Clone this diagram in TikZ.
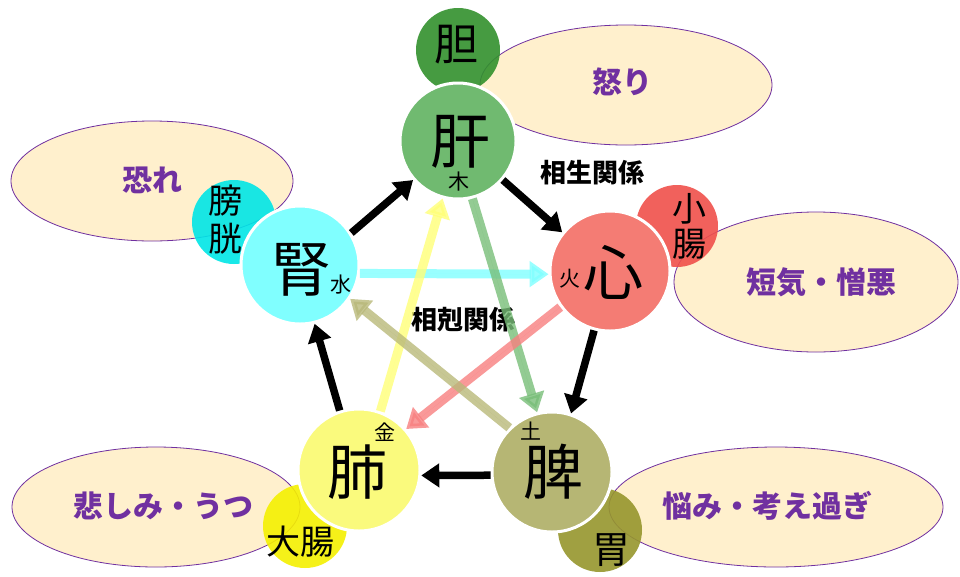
\documentclass[tikz,border=0pt]{standalone}
\usepackage{fontspec}
\setmainfont{Noto Sans CJK JP}
\usetikzlibrary{arrows.meta,shapes.geometric}
\definecolor{emofill}{RGB}{255,240,205}
\definecolor{emoline}{RGB}{112,48,160}
\definecolor{emotext}{RGB}{112,48,160}
\definecolor{livercol}{RGB}{112,186,112}
\definecolor{gallcol}{RGB}{50,145,45}
\definecolor{kidneycol}{RGB}{128,255,255}
\definecolor{bladdercol}{RGB}{0,230,230}
\definecolor{heartcol}{RGB}{244,124,116}
\definecolor{sicol}{RGB}{240,80,75}
\definecolor{lungcol}{RGB}{250,250,125}
\definecolor{licol}{RGB}{245,240,0}
\definecolor{spleencol}{RGB}{182,182,116}
\definecolor{stomachcol}{RGB}{150,150,45}
\definecolor{kcyan}{RGB}{128,255,255}
\definecolor{kyellow}{RGB}{255,255,120}
\definecolor{kgreen}{RGB}{120,190,120}
\definecolor{ksalmon}{RGB}{248,128,128}
\definecolor{kkhaki}{RGB}{185,185,122}
\begin{document}
\begin{tikzpicture}[x=1pt,y=-1pt,
  emo/.style={ellipse, fill=emofill, draw=emoline, line width=0.8pt, inner sep=0pt},
  emot/.style={inner sep=0pt, text=emotext, font=\fontsize{30}{30}\selectfont\bfseries},
  organ/.style={circle, draw=white, line width=3pt, inner sep=0pt, minimum size=#1},
  subc/.style={circle, inner sep=0pt, fill opacity=0.9, text opacity=1, minimum size=84pt},
  subt/.style={inner sep=0pt, font=\fontsize{34}{34}\selectfont},
  bigk/.style={inner sep=0pt, font=\fontsize{60}{60}\selectfont},
  elem/.style={inner sep=0pt, font=\fontsize{21}{21}\selectfont},
  rel/.style={inner sep=0pt, font=\fontsize{26}{26}\selectfont\bfseries},
  shou/.style={line width=7.5pt, -{Triangle[width=23pt,length=18pt]}},
  koku/.style={line width=9pt, draw opacity=0.8, fill opacity=0.8, -{Triangle[width=25pt,length=19pt]}}
]
\useasboundingbox (0,0) rectangle (960,576);
\fill[white] (0,0) rectangle (960,576);

% emotion ellipses
\node[emo, minimum width=292pt, minimum height=120pt] (eanger) at (626,85) {};
\node[emo, minimum width=282pt, minimum height=120pt] (efear) at (152,181) {};
\node[emo, minimum width=284pt, minimum height=140pt] (ejoy) at (816,282) {};
\node[emo, minimum width=288pt, minimum height=120pt] (esad) at (156,507) {};
\node[emo, minimum width=334pt, minimum height=120pt] (eworry) at (776,507) {};
\node[emot] (tanger) at (622,82) {怒り};
\node[emot] (tfear) at (152,180) {恐れ};
\node[emot] (tjoy) at (821,282) {短気・憎悪};
\node[emot] (tsad) at (163,506) {悲しみ・うつ};
\node[emot] (tworry) at (767,506) {悩み・考え過ぎ};

% sub organs
\node[subc, fill=gallcol] (gall) at (458,50) {};
\node[subc, fill=bladdercol] (bladder) at (234,222) {};
\node[subc, fill=sicol, minimum size=82pt] (si) at (677,226) {};
\node[subc, fill=licol] (li) at (305,526) {};
\node[subc, fill=stomachcol] (stomach) at (600,530) {};
\node[subt, font=\fontsize{44}{44}\selectfont] (tgall) at (456,45) {胆};
\node[subt] (tbl1) at (225,201) {膀};
\node[subt] (tbl2) at (225,239) {胱};
\node[subt] (tsi1) at (689,209) {小};
\node[subt] (tsi2) at (689,244) {腸};
\node[subt] (tli) at (300,542) {大腸};
\node[subt, font=\fontsize{38}{38}\selectfont] (tst) at (611,550) {胃};

% main organs
\node[organ=116pt, fill=livercol] (L) at (458,141) {};
\node[organ=118pt, fill=kidneycol] (K) at (300,265) {};
\node[organ=120pt, fill=heartcol] (H) at (610,271) {};
\node[organ=122pt, fill=lungcol] (U) at (359,470) {};
\node[organ=120pt, fill=spleencol] (S) at (552,472) {};

\node[bigk] (Lt) at (460,142) {肝};
\node[elem] (Le) at (459,182) {木};
\node[bigk] (Kt) at (301,270) {腎};
\node[elem] (Ke) at (341,285) {水};
\node[bigk] (Ht) at (613,272) {心};
\node[elem] (He) at (570,279) {火};
\node[bigk] (Ut) at (357,472) {肺};
\node[elem] (Ue) at (385,432) {金};
\node[bigk] (St) at (553,472) {脾};
\node[elem] (Se) at (531,431) {土};

% relation labels
\node[rel] (r1) at (592,173) {相生関係};
\node[rel] (r2) at (463,320) {相剋関係};

% controlling cycle (colored)
\draw[koku, draw=kcyan, fill=kcyan] (K.352) -- (H.183);
\draw[koku, draw=kyellow, fill=kyellow] (U.70) -- (L.255);
\draw[koku, draw=kgreen, fill=kgreen] (L.284) -- (S.104);
\draw[koku, draw=ksalmon, fill=ksalmon] (H.216) -- (U.41);
\draw[koku, draw=kkhaki, fill=kkhaki] (S.134) -- (K.326);

% generating cycle (black)
\draw[shou] (K.32) -- (L.221);
\draw[shou] (L.319) -- (H.141);
\draw[shou] (H.255) -- (S.72);
\draw[shou] (S.183) -- (U.355);
\draw[shou] (U.108) -- (K.284);
\end{tikzpicture}
\end{document}
